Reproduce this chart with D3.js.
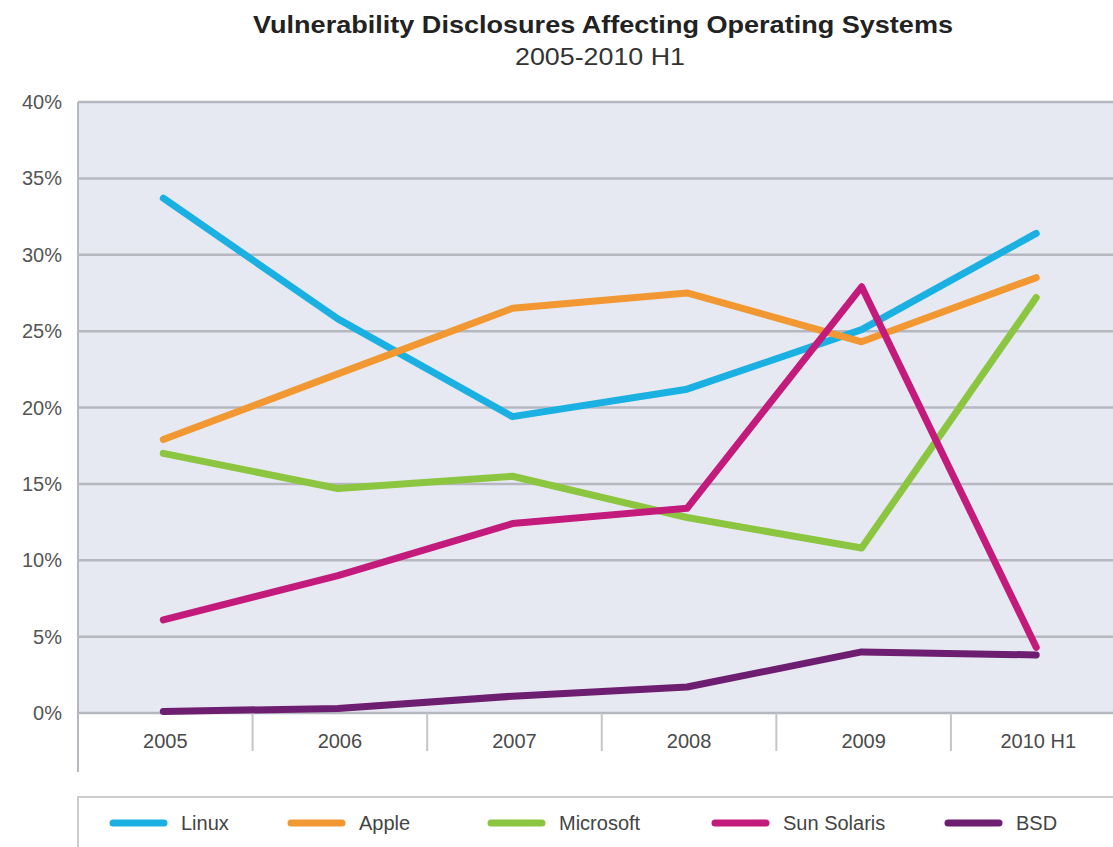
<!DOCTYPE html>
<html>
<head>
<meta charset="utf-8">
<script src="https://cdn.jsdelivr.net/npm/d3@7"></script>
<style>
  html, body { margin: 0; padding: 0; background: #ffffff; }
  svg { display: block; font-family: "Liberation Sans", Arial, Helvetica, sans-serif; }
</style>
</head>
<body>
<svg id="chart" width="1113" height="847"></svg>
<script>
// ---- Data ----
const categories = ["2005", "2006", "2007", "2008", "2009", "2010 H1"];
const seriesNames = ["Linux", "Apple", "Microsoft", "Sun Solaris", "BSD"];
const linux      = [33.7, 25.8, 19.4, 21.2, 25.1, 31.4];
const apple      = [17.9, 22.2, 26.5, 27.5, 24.3, 28.5];
const microsoft  = [17.0, 14.7, 15.5, 12.8, 10.8, 27.2];
const sunSolaris = [6.1, 9.0, 12.4, 13.4, 27.9, 4.3];
const bsd        = [0.1, 0.3, 1.1, 1.7, 4.0, 3.8];
const yTicks = [0, 5, 10, 15, 20, 25, 30, 35, 40];
const titleText = "Vulnerability Disclosures Affecting Operating Systems";
const subtitleText = "2005-2010 H1";

// ---- Styles / layout ----
const colors = ["#1ab1e2", "#f29832", "#8cc540", "#c31b7c", "#6d1e70"];
const seriesValues = [linux, apple, microsoft, sunSolaris, bsd];
const series = seriesNames.map((n, i) => ({ name: n, values: seriesValues[i], color: colors[i] }));

const svg = d3.select("#chart");
const plotLeft = 78, plotRight = 1125.5, plotTop = 102, zeroY = 713;

const x = d3.scaleBand().domain(categories).range([plotLeft, plotRight]).paddingInner(0).paddingOuter(0);
const y = d3.scaleLinear().domain([0, 40]).range([zeroY, plotTop]);
const px = c => x(c) + x.bandwidth() / 2 - 2;

// plot background
svg.append("rect")
  .attr("x", plotLeft).attr("y", y(40))
  .attr("width", plotRight - plotLeft).attr("height", y(0) - y(40))
  .attr("fill", "#e7e9f2");

// gridlines
svg.append("g").selectAll("line").data(yTicks).join("line")
  .attr("x1", plotLeft).attr("x2", plotRight)
  .attr("y1", d => y(d)).attr("y2", d => y(d))
  .attr("stroke", "#b6b8c0").attr("stroke-width", 2.5);

// y axis line
svg.append("line")
  .attr("x1", plotLeft).attr("x2", plotLeft)
  .attr("y1", y(40)).attr("y2", 772)
  .attr("stroke", "#b6b8c0").attr("stroke-width", 2);

// y tick labels
svg.append("g").selectAll("text").data(yTicks).join("text")
  .attr("x", 62).attr("y", d => y(d))
  .attr("dy", "0.35em")
  .attr("text-anchor", "end")
  .attr("font-size", 20)
  .attr("fill", "#555555")
  .text(d => d + "%");

// x separators
svg.append("g").selectAll("line").data(categories.slice(1)).join("line")
  .attr("x1", d => x(d)).attr("x2", d => x(d))
  .attr("y1", zeroY).attr("y2", 751)
  .attr("stroke", "#c4c5ca").attr("stroke-width", 2);

// x labels
svg.append("g").selectAll("text").data(categories).join("text")
  .attr("x", d => x(d) + x.bandwidth() / 2)
  .attr("y", 741)
  .attr("dy", "0.35em")
  .attr("text-anchor", "middle")
  .attr("font-size", 20)
  .attr("fill", "#4a4a4a")
  .text(d => d);

// lines
const line = d3.line()
  .x((d, i) => px(categories[i]))
  .y(d => y(d));

svg.append("g").selectAll("path").data(series).join("path")
  .attr("d", d => line(d.values))
  .attr("fill", "none")
  .attr("stroke", d => d.color)
  .attr("stroke-width", 7)
  .attr("stroke-linejoin", "round")
  .attr("stroke-linecap", "round");

// title
svg.append("text")
  .attr("x", 603).attr("y", 33)
  .attr("text-anchor", "middle")
  .attr("font-size", 24)
  .attr("font-weight", "bold")
  .attr("fill", "#222222")
  .attr("textLength", 700)
  .attr("lengthAdjust", "spacingAndGlyphs")
  .text(titleText);

svg.append("text")
  .attr("x", 600).attr("y", 65)
  .attr("text-anchor", "middle")
  .attr("font-size", 24)
  .attr("fill", "#333333")
  .attr("textLength", 170)
  .attr("lengthAdjust", "spacingAndGlyphs")
  .text(subtitleText);

// legend
svg.append("rect")
  .attr("x", plotLeft).attr("y", 797)
  .attr("width", 1113 - plotLeft + 10).attr("height", 60)
  .attr("fill", "#ffffff")
  .attr("stroke", "#cccccc").attr("stroke-width", 2);

const legendX = [110, 288, 488, 712, 945];
const lg = svg.append("g").selectAll("g").data(series).join("g")
  .attr("transform", (d, i) => `translate(${legendX[i]},823)`);
lg.append("line")
  .attr("x1", 3).attr("x2", 54).attr("y1", 0).attr("y2", 0)
  .attr("stroke", d => d.color).attr("stroke-width", 7)
  .attr("stroke-linecap", "round");
lg.append("text")
  .attr("x", 71).attr("y", 0).attr("dy", "0.35em")
  .attr("font-size", 20)
  .attr("fill", "#444444")
  .text(d => d.name);
</script>
</body>
</html>
